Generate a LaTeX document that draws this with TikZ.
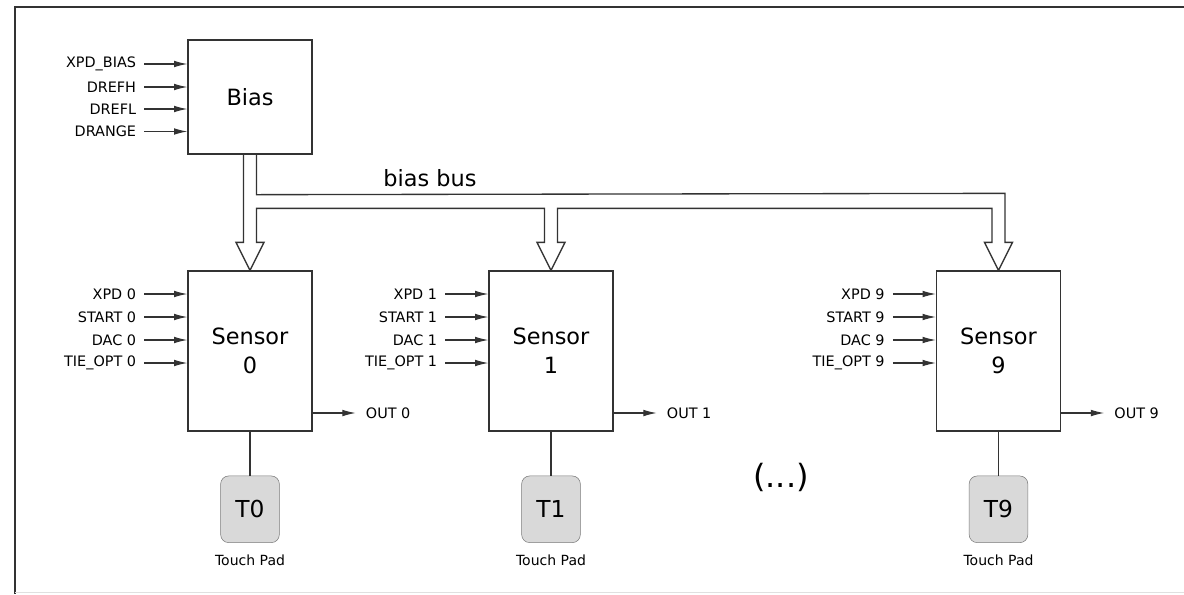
\documentclass[tikz,border=0pt]{standalone}
\usepackage{fontspec}
\setmainfont{DejaVu Sans}
\usetikzlibrary{positioning,arrows.meta,calc}
\definecolor{linegray}{HTML}{333333}
\definecolor{padfill}{HTML}{D9D9D9}
\definecolor{padedge}{HTML}{7A7A7A}

\begin{document}
\begin{tikzpicture}[
  x=0.75pt, y=-0.75pt,
  font=\fontsize{10.8}{13}\selectfont,
  every node/.style={align=center, text=black},
  block/.style={draw=linegray, line width=1pt, minimum width=93pt, minimum height=120pt,
                inner sep=0pt, font=\fontsize{16.8}{21.5}\selectfont},
  biasbox/.style={block, minimum height=85.5pt},
  sig/.style={inner sep=0pt, font=\fontsize{10.8}{13}\selectfont},
  padlbl/.style={inner sep=0pt, font=\fontsize{10.5}{13}\selectfont},
  pad/.style={draw=padedge, fill=padfill, rounded corners=6pt, minimum width=44pt,
              minimum height=50pt, inner sep=0pt, font=\fontsize{17.5}{20}\selectfont},
  arrow/.style={-{Latex[length=10pt,width=5pt]}, draw=linegray, line width=0.8pt},
  wire/.style={draw=linegray, line width=0.8pt},
  bus/.style={draw=linegray, line width=1pt},
]
\useasboundingbox (0,0) rectangle (1184,594);
\draw[linegray, line width=1.5pt] (15,594) -- (15,7) -- (1184,7);
\draw[black!12] (15,592.5) -- (1184,592.5);

% ===== bias block =====
\node[biasbox] (bias) at (250,97) {Bias};
\node[sig, anchor=east] (xpdbias) at ($(bias.west)+(-51,-33)$) {XPD\_BIAS};
\node[sig, anchor=east] (drefh) at ($(bias.west)+(-51,-10)$) {DREFH};
\node[sig, anchor=east] (drefl) at ($(bias.west)+(-51,12)$) {DREFL};
\node[sig, anchor=east] (drange) at ($(bias.west)+(-51,34.5)$) {DRANGE};
\draw[arrow, shorten <=6pt] (xpdbias) -- (xpdbias -| bias.west);
\draw[arrow, shorten <=6pt] (drefh) -- (drefh -| bias.west);
\draw[arrow, shorten <=6pt] (drefl) -- (drefl -| bias.west);
\draw[arrow, shorten <=6pt] (drange) -- (drange -| bias.west);

% ===== sensors =====
\node[block] (s0) at (250,351) {Sensor\\0};
\node[block] (s1) at (551,351) {Sensor\\1};
\node[block] (s9) at (998.5,351) {Sensor\\9};

\node[sig, anchor=east] (xpd0) at ($(s0.west)+(-51,-57)$) {XPD 0};
\node[sig, anchor=east] (start0) at ($(s0.west)+(-51,-34)$) {START 0};
\node[sig, anchor=east] (dac0) at ($(s0.west)+(-51,-11)$) {DAC 0};
\node[sig, anchor=east] (tie0) at ($(s0.west)+(-51,12)$) {TIE\_OPT 0};
\draw[arrow, shorten <=6pt] (xpd0) -- (xpd0 -| s0.west);
\draw[arrow, shorten <=6pt] (start0) -- (start0 -| s0.west);
\draw[arrow, shorten <=6pt] (dac0) -- (dac0 -| s0.west);
\draw[arrow, shorten <=6pt] (tie0) -- (tie0 -| s0.west);

\node[sig, anchor=east] (xpd1) at ($(s1.west)+(-51,-57)$) {XPD 1};
\node[sig, anchor=east] (start1) at ($(s1.west)+(-51,-34)$) {START 1};
\node[sig, anchor=east] (dac1) at ($(s1.west)+(-51,-11)$) {DAC 1};
\node[sig, anchor=east] (tie1) at ($(s1.west)+(-51,12)$) {TIE\_OPT 1};
\draw[arrow, shorten <=6pt] (xpd1) -- (xpd1 -| s1.west);
\draw[arrow, shorten <=6pt] (start1) -- (start1 -| s1.west);
\draw[arrow, shorten <=6pt] (dac1) -- (dac1 -| s1.west);
\draw[arrow, shorten <=6pt] (tie1) -- (tie1 -| s1.west);

\node[sig, anchor=east] (xpd9) at ($(s9.west)+(-51,-57)$) {XPD 9};
\node[sig, anchor=east] (start9) at ($(s9.west)+(-51,-34)$) {START 9};
\node[sig, anchor=east] (dac9) at ($(s9.west)+(-51,-11)$) {DAC 9};
\node[sig, anchor=east] (tie9) at ($(s9.west)+(-51,12)$) {TIE\_OPT 9};
\draw[arrow, shorten <=6pt] (xpd9) -- (xpd9 -| s9.west);
\draw[arrow, shorten <=6pt] (start9) -- (start9 -| s9.west);
\draw[arrow, shorten <=6pt] (dac9) -- (dac9 -| s9.west);
\draw[arrow, shorten <=6pt] (tie9) -- (tie9 -| s9.west);

% outputs
\node[sig, anchor=west] (out0) at ($(s0.east)+(53,62)$) {OUT 0};
\node[sig, anchor=west] (out1) at ($(s1.east)+(53,62)$) {OUT 1};
\node[sig, anchor=west] (out9) at ($(s9.east)+(53,62)$) {OUT 9};
\draw[arrow, shorten >=7.5pt] (out0 -| s0.east) -- (out0);
\draw[arrow, shorten >=7.5pt] (out1 -| s1.east) -- (out1);
\draw[arrow, shorten >=7.5pt] (out9 -| s9.east) -- (out9);

% ===== touch pads =====
\node[pad, below=33pt of s0] (t0) {T0};
\node[pad, below=33pt of s1] (t1) {T1};
\node[pad, below=33pt of s9] (t9) {T9};
\node[padlbl, below=9pt of t0] (tp0) {Touch Pad};
\node[padlbl, below=9pt of t1] (tp1) {Touch Pad};
\node[padlbl, below=9pt of t9] (tp9) {Touch Pad};
\draw[wire] (s0) -- (t0);
\draw[wire] (s1) -- (t1);
\draw[wire] (s9) -- (t9);

\node[font=\fontsize{24}{28}\selectfont] (dots) at (781,477) {(...)};

% ===== bias bus =====
\draw[bus] ($(bias.south)+(-6.5,0)$) -- ($(s0.north)+(-6.5,-28)$) -- ++(-7.5,0)
  -- (s0.north) -- ++(14,-28) -- ++(-7.5,0)
  -- ($(s0.north)+(6.5,-62)$) -- ($(s1.north)+(-6.5,-62)$) -- ($(s1.north)+(-6.5,-28)$)
  -- ++(-7.5,0) -- (s1.north) -- ++(14,-28) -- ++(-7.5,0)
  -- ($(s1.north)+(6.5,-62)$) -- ($(s9.north)+(-6.5,-62)$) -- ($(s9.north)+(-6.5,-28)$)
  -- ++(-7.5,0) -- (s9.north) -- ++(14,-28) -- ++(-7.5,0)
  -- ($(s9.north)+(6.5,-77)$) -- ($(bias.south)+(6.5,40)$) -- ($(bias.south)+(6.5,0)$);
\node[font=\fontsize{16.8}{20}\selectfont] (buslbl) at (430,178) {bias bus};
\end{tikzpicture}
\end{document}
